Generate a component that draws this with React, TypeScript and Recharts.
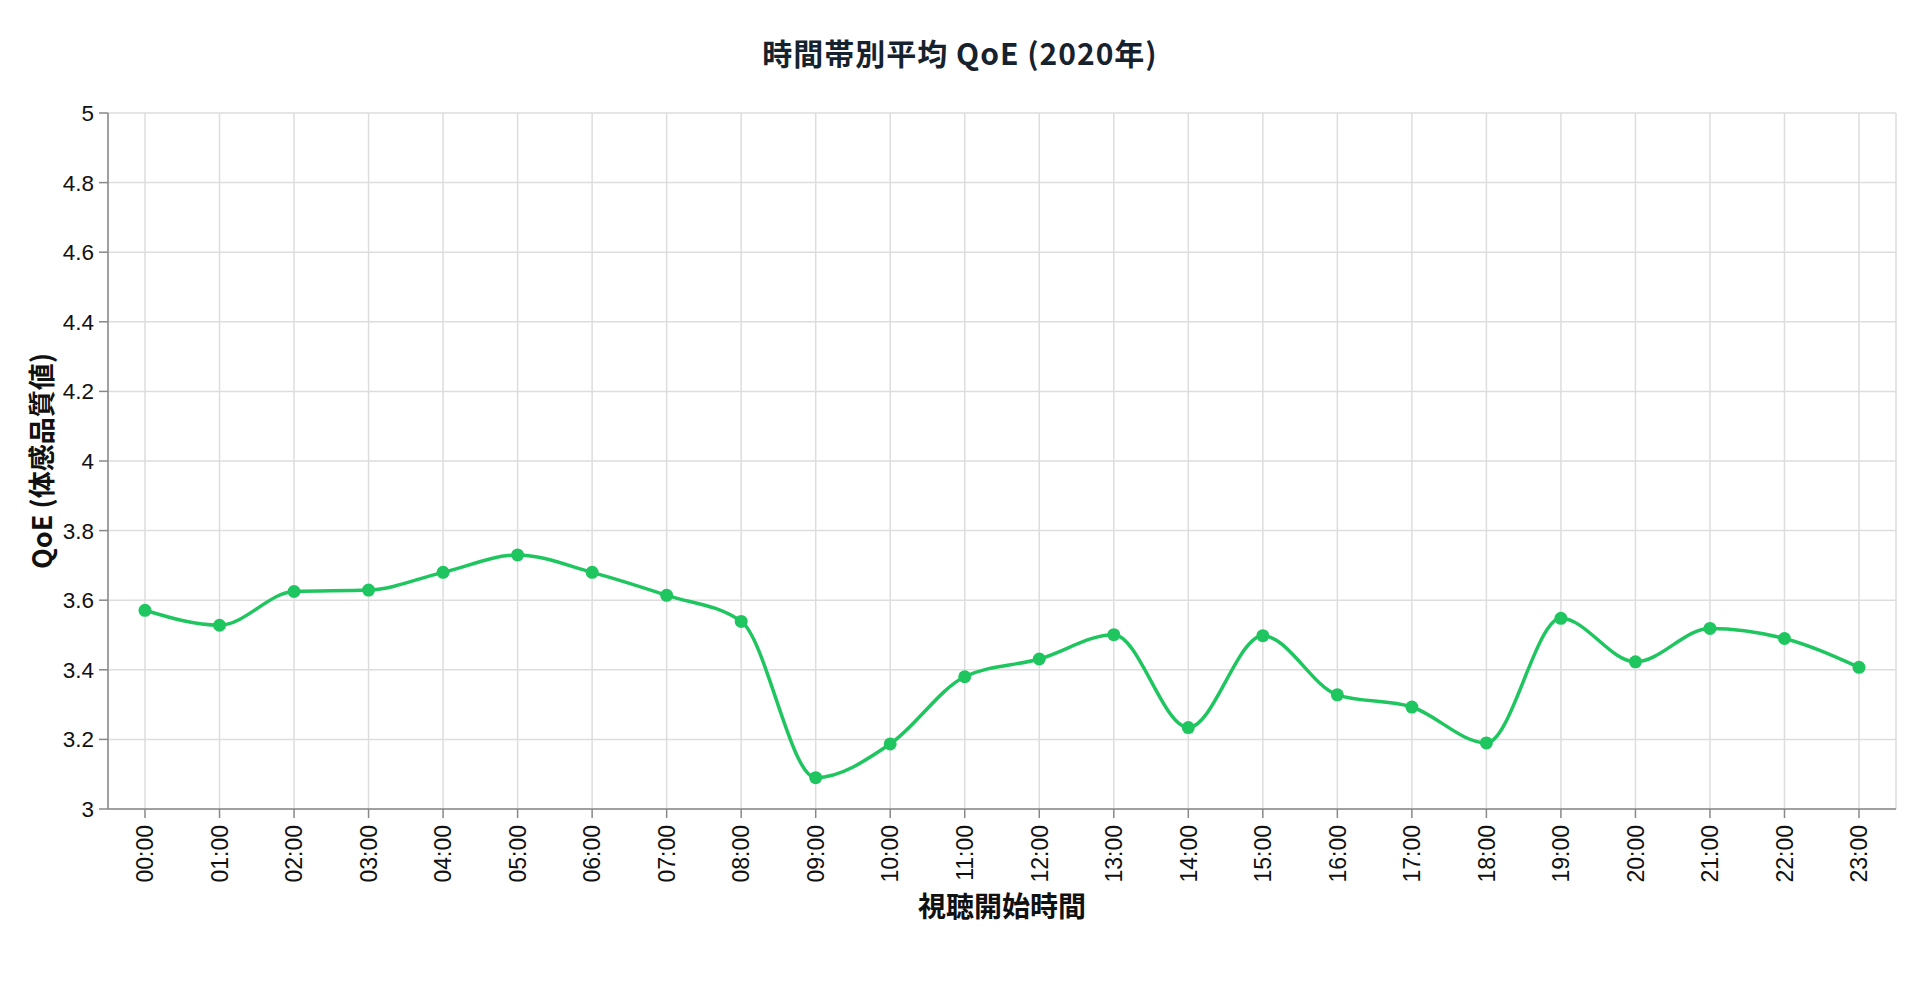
import React from 'react';
import { LineChart, Line, XAxis, YAxis, CartesianGrid, Label } from 'recharts';

const hours = [
  '00:00', '01:00', '02:00', '03:00', '04:00', '05:00', '06:00', '07:00',
  '08:00', '09:00', '10:00', '11:00', '12:00', '13:00', '14:00', '15:00',
  '16:00', '17:00', '18:00', '19:00', '20:00', '21:00', '22:00', '23:00',
];
const qoeValues = [
  3.571, 3.528, 3.625, 3.629, 3.68, 3.73, 3.68, 3.614,
  3.539, 3.09, 3.187, 3.38, 3.431, 3.501, 3.234, 3.498,
  3.328, 3.293, 3.19, 3.548, 3.423, 3.519, 3.49, 3.407,
];
const yTicks = [3, 3.2, 3.4, 3.6, 3.8, 4, 4.2, 4.4, 4.6, 4.8, 5];

const titleText = '時間帯別平均 QoE (2020年)';
const xTitle = '視聴開始時間';
const yTitle = 'QoE (体感品質値)';

const data = hours.map((h, i) => ({ hour: h, qoe: qoeValues[i] }));

const GREEN = '#1fc65f';
const AXIS = '#888888';
const GRID = '#dddddd';
const TICK_FONT = '"Liberation Sans", Arial, sans-serif';
const TITLE_FONT = '"Noto Sans CJK JP", "Noto Sans", sans-serif';

const XTick = (props: any) => {
  const { x, y, payload } = props;
  return (
    <g transform={`translate(${x},${y})`}>
      <text
        transform="rotate(-90)"
        x={0}
        y={0}
        dy="0.36em"
        textAnchor="end"
        fontFamily={TICK_FONT}
        fontSize={23}
        fill="#111"
      >
        {payload.value}
      </text>
    </g>
  );
};

const YTitle = (props: any) => {
  const vb = props.viewBox || {};
  const cy = (vb.y ?? 0) + (vb.height ?? 0) / 2;
  const cx = 40;
  return (
    <text
      x={cx}
      y={cy}
      transform={`rotate(-90 ${cx} ${cy})`}
      textAnchor="middle"
      dominantBaseline="central"
      fontFamily={TITLE_FONT}
      fontWeight={700}
      fontSize={27}
      fill="#111"
    >
      {yTitle}
    </text>
  );
};

const XTitle = (props: any) => {
  const vb = props.viewBox || {};
  const cx = (vb.x ?? 0) + (vb.width ?? 0) / 2;
  const cy = (vb.y ?? 0) + 96;
  return (
    <text
      x={cx}
      y={cy}
      textAnchor="middle"
      dominantBaseline="central"
      fontFamily={TITLE_FONT}
      fontWeight={700}
      fontSize={28}
      fill="#111"
    >
      {xTitle}
    </text>
  );
};

export default function App() {
  return (
    <div
      style={{
        position: 'absolute',
        left: 0,
        top: 0,
        width: 1920,
        height: 1000,
        background: '#fff',
      }}
    >
      <div
        style={{
          position: 'absolute',
          left: 0,
          top: 31,
          width: 1920,
          height: 42,
          lineHeight: '42px',
          textAlign: 'center',
          fontFamily: TITLE_FONT,
          fontWeight: 700,
          fontSize: 30,
          letterSpacing: 1,
          color: '#16232f',
        }}
      >
        {titleText}
      </div>
      <LineChart
        width={1920}
        height={1000}
        data={data}
        margin={{ top: 113, right: 24, bottom: 111, left: 48 }}
      >
        <CartesianGrid stroke={GRID} strokeWidth={1.5} vertical horizontal />
        <XAxis
          dataKey="hour"
          interval={0}
          padding={{ left: 37, right: 37 }}
          height={80}
          tickSize={9}
          tickMargin={7}
          stroke={AXIS}
          strokeWidth={1.5}
          tickLine={{ stroke: AXIS, strokeWidth: 1.5 }}
          tick={<XTick />}
        >
          <Label content={<XTitle />} />
        </XAxis>
        <YAxis
          type="number"
          domain={[3, 5]}
          ticks={yTicks}
          interval={0}
          width={60}
          tickSize={9}
          tickMargin={5}
          stroke={AXIS}
          strokeWidth={1.5}
          tickLine={{ stroke: AXIS, strokeWidth: 1.5 }}
          tick={{ fontFamily: TICK_FONT, fontSize: 22.5, fill: '#111' }}
          tickFormatter={(v: number) => String(Number(v.toFixed(1)))}
        >
          <Label content={<YTitle />} />
        </YAxis>
        <Line
          type="monotone"
          dataKey="qoe"
          stroke={GREEN}
          strokeWidth={3.5}
          dot={{ r: 6.5, fill: GREEN, stroke: GREEN, strokeWidth: 0 }}
          activeDot={false}
          isAnimationActive={false}
        />
      </LineChart>
    </div>
  );
}
